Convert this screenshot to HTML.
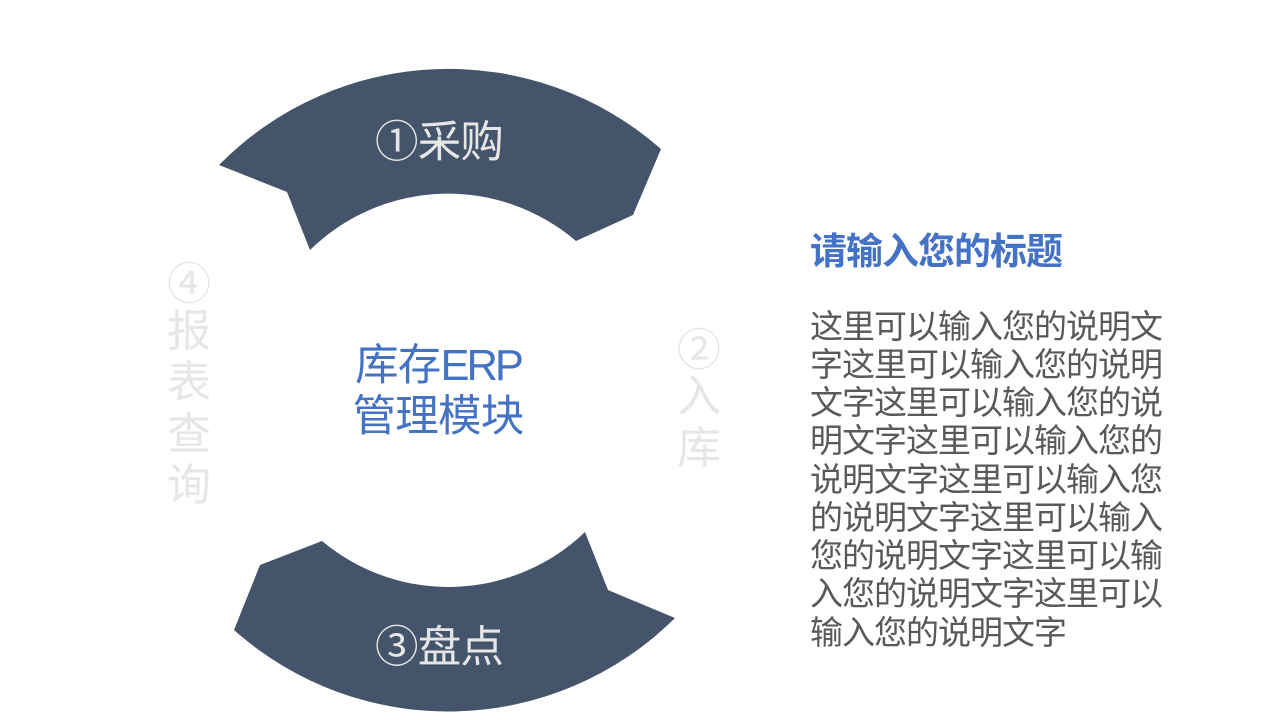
<!DOCTYPE html>
<html lang="zh">
<head>
<meta charset="utf-8">
<style>
html,body{margin:0;padding:0;background:#fff;}
#s{position:relative;width:1280px;height:720px;overflow:hidden;background:#fff;font-family:"Liberation Sans","Noto Sans CJK SC",sans-serif;}
#s svg{position:absolute;left:0;top:0;}
.t{position:absolute;white-space:nowrap;line-height:1;}
.w{font-size:43.5px;letter-spacing:-.8px;color:#e7e6e6;}
.g{font-size:44px;color:#e7e6e6;width:44px;text-align:center;}
.b{font-size:43.5px;letter-spacing:-.8px;color:#4472c4;width:300px;text-align:center;left:288px;}
.e{letter-spacing:-3px;}
.p{font-size:33px;letter-spacing:-1px;color:#595959;left:810px;}
</style>
</head>
<body>
<div id="s">
<svg width="1280" height="720" viewBox="0 0 1280 720">
<path fill="#44546a" d="M219 165 A322 322 0 0 1 661 149 L633 215 L576 241 A197 197 0 0 0 310 250 L287 192 Z"/>
<path fill="#44546a" d="M675 618 A322 322 0 0 1 234 630 L260 565 L322 541 A197 197 0 0 0 585 532 L608 590 Z"/>
</svg>
<div class="t w" style="left:375px;top:122px;">①采购</div>
<div class="t w" style="left:375px;top:627px;">③盘点</div>
<div class="t b" style="top:345px;">库存<span class="e">ERP</span></div>
<div class="t b" style="top:396px;">管理模块</div>
<div class="t g" style="left:167px;top:263px;">④</div>
<div class="t g" style="left:167px;top:310px;">报</div>
<div class="t g" style="left:167px;top:361px;">表</div>
<div class="t g" style="left:167px;top:413px;">查</div>
<div class="t g" style="left:167px;top:464px;">询</div>
<div class="t g" style="left:677px;top:329px;">②</div>
<div class="t g" style="left:677px;top:375px;">入</div>
<div class="t g" style="left:677px;top:427px;">库</div>
<div class="t" style="left:810px;top:233px;font-size:37px;letter-spacing:-1px;font-weight:bold;color:#4472c4;">请输入您的标题</div>
<div class="t p" style="top:310px;">这里可以输入您的说明文</div>
<div class="t p" style="top:348px;">字这里可以输入您的说明</div>
<div class="t p" style="top:386px;">文字这里可以输入您的说</div>
<div class="t p" style="top:424px;">明文字这里可以输入您的</div>
<div class="t p" style="top:463px;">说明文字这里可以输入您</div>
<div class="t p" style="top:501px;">的说明文字这里可以输入</div>
<div class="t p" style="top:539px;">您的说明文字这里可以输</div>
<div class="t p" style="top:577px;">入您的说明文字这里可以</div>
<div class="t p" style="top:616px;">输入您的说明文字</div>
</div>
</body>
</html>
